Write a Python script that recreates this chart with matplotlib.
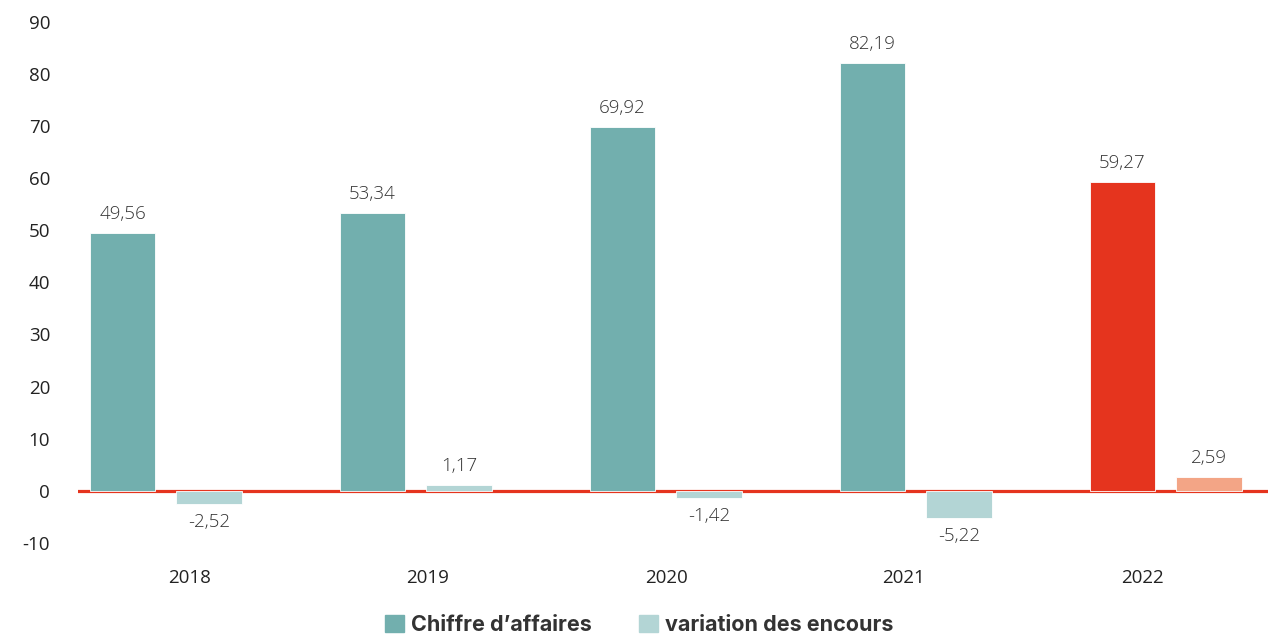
import matplotlib.pyplot as plt
from matplotlib.patches import Patch
import numpy as np

years = ['2018', '2019', '2020', '2021', '2022']
chiffre = [49.56, 53.34, 69.92, 82.19, 59.27]
variation = [-2.52, 1.17, -1.42, -5.22, 2.59]
chiffre_colors = ['#72afae', '#72afae', '#72afae', '#72afae', '#e5341e']
variation_colors = ['#b3d5d5', '#b3d5d5', '#b3d5d5', '#b3d5d5', '#f3a586']
yticks = [-10, 0, 10, 20, 30, 40, 50, 60, 70, 80, 90]

plt.rcParams['font.family'] = ['Open Sans', 'DejaVu Sans']

fig = plt.figure(figsize=(12.78, 6.34), dpi=100)
ax = fig.add_axes([78 / 1278, 1 - 562 / 634, 1190 / 1278, 552 / 634])

x = np.arange(len(years))
w = 0.262
ax.bar(x - 0.174, chiffre, w, color=chiffre_colors, edgecolor='white', linewidth=0.6, zorder=2)
ax.bar(x + 0.172, variation, w, color=variation_colors, edgecolor='white', linewidth=0.6, zorder=2)
ax.axhline(0, color='#e5341e', lw=2.3, zorder=1)

def fmt(v):
    return f'{v:.2f}'.replace('.', ',')

lab = dict(fontsize=13.5, color='#333333', fontweight='light')
for i, v in enumerate(chiffre):
    ax.text(x[i] - 0.174, v + 1.9, fmt(v), ha='center', va='bottom', **lab)
for i, v in enumerate(variation):
    if v >= 0:
        ax.text(x[i] + 0.172, v + 1.9, fmt(v), ha='center', va='bottom', **lab)
    else:
        ax.text(x[i] + 0.172, v - 1.7, fmt(v), ha='center', va='top', **lab)

ax.set_xlim(-0.352, 4.408)
ax.set_ylim(-13.7, 92.3)
ax.set_yticks(yticks)
ax.set_yticklabels([str(t) for t in yticks], fontsize=13.5, color='#222222')
tick_pos = [0.096 + i * 0.952 for i in range(len(years))]
ax.set_xticks(tick_pos)
ax.set_xticklabels(years, fontsize=13.5, color='#222222')
ax.tick_params(axis='both', length=0)
ax.tick_params(axis='y', pad=20)
ax.tick_params(axis='x', pad=5)
for s in ax.spines.values():
    s.set_visible(False)

handles = [Patch(color='#72afae'), Patch(color='#b3d5d5')]
fig.legend(handles, ['Chiffre d\u2019affaires', 'variation des encours'], loc='lower center',
           bbox_to_anchor=(0.5, -0.032), ncol=2, frameon=False, handlelength=0.9, handleheight=0.9,
           handletextpad=0.3, columnspacing=2.2,
           prop={'size': 15.5, 'weight': 'bold', 'family': ['Inter', 'DejaVu Sans']},
           labelcolor='#333333')

plt.savefig('out.png', dpi=100)
plt.close()
